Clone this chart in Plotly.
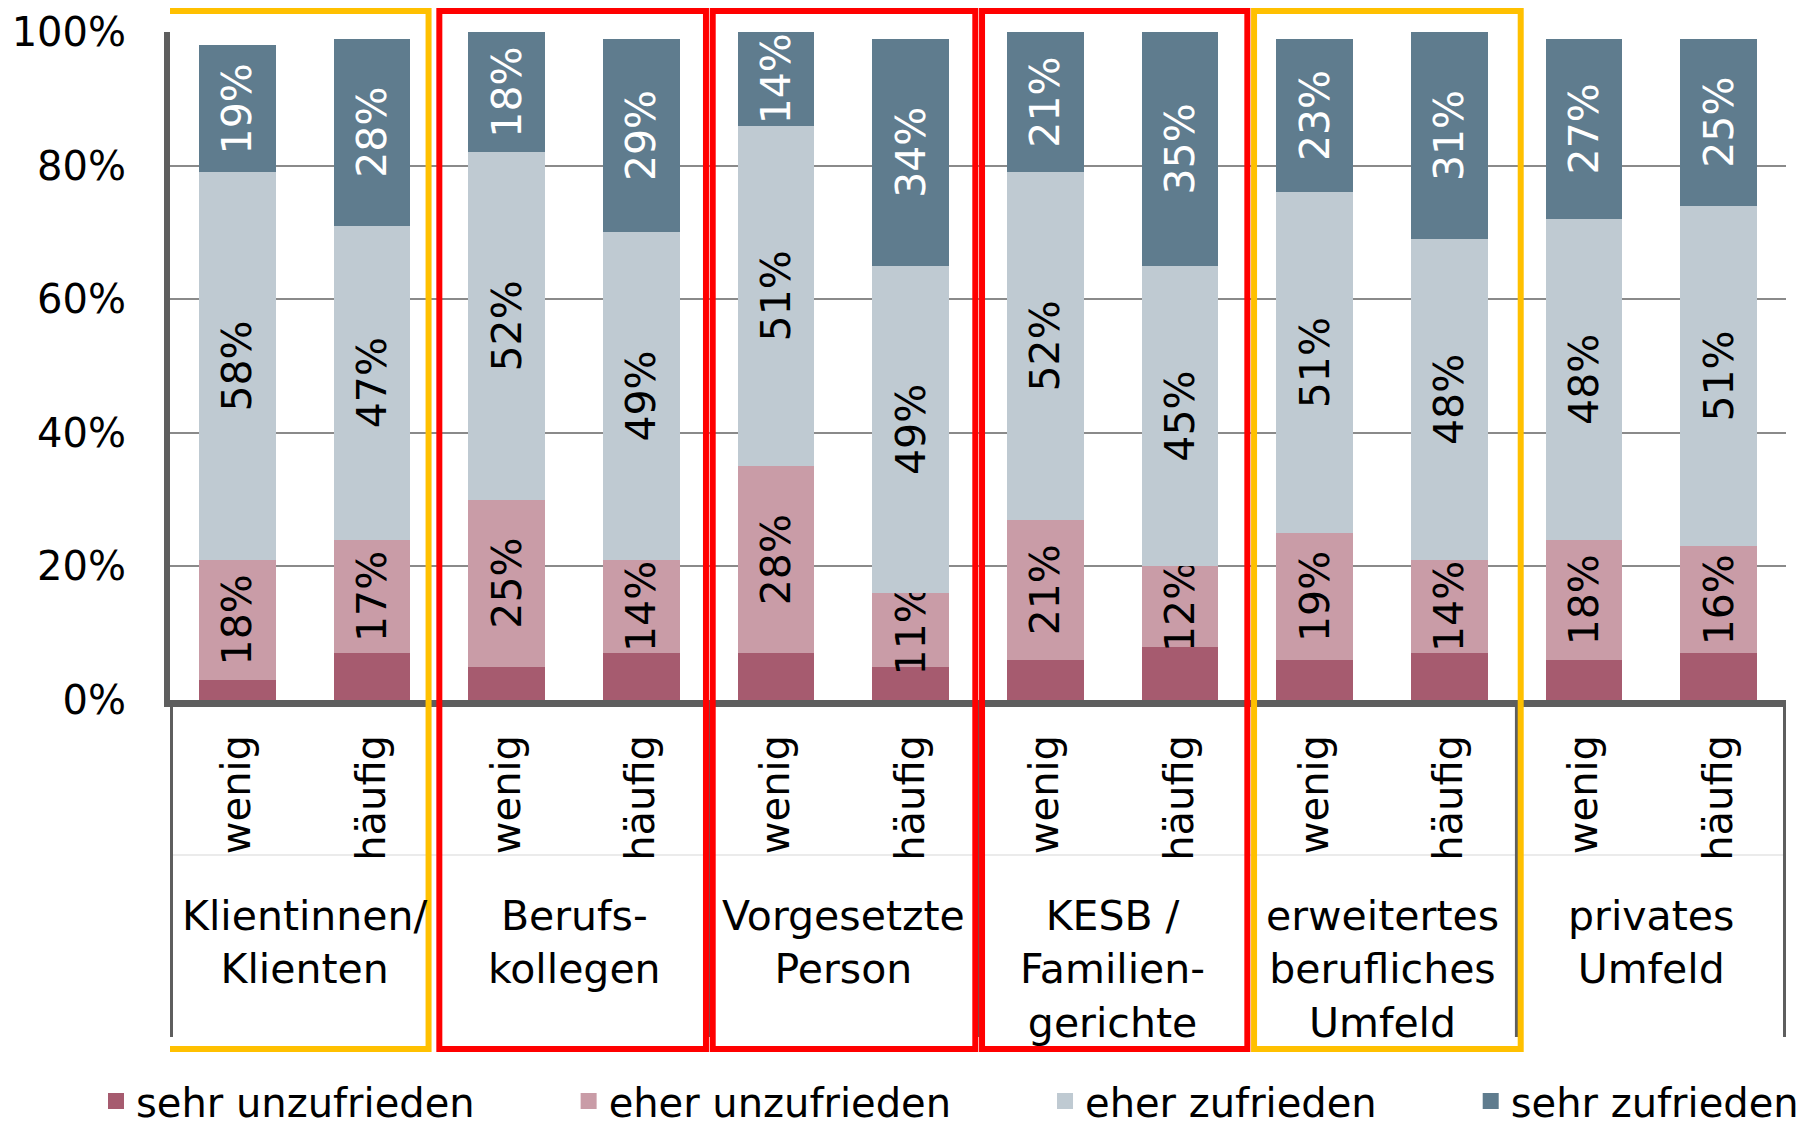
import plotly.graph_objects as go

# ---------------- data ----------------
groups = ["Klientinnen/<br>Klienten", "Berufs-<br>kollegen", "Vorgesetzte<br>Person",
          "KESB /<br>Familien-<br>gerichte", "erweitertes<br>berufliches<br>Umfeld",
          "privates<br>Umfeld"]
frequency = ["wenig", "häufig"]
series_names = ["sehr unzufrieden", "eher unzufrieden", "eher zufrieden", "sehr zufrieden"]

sehr_unzufrieden = [3, 7, 5, 7, 7, 5, 6, 8, 6, 7, 6, 7]
eher_unzufrieden = [18, 17, 25, 14, 28, 11, 21, 12, 19, 14, 18, 16]
eher_zufrieden = [58, 47, 52, 49, 51, 49, 52, 45, 51, 48, 48, 51]
sehr_zufrieden = [19, 28, 18, 29, 14, 34, 21, 35, 23, 31, 27, 25]

y_ticks = [0, 20, 40, 60, 80, 100]

# ---------------- styling ----------------
FONT = "DejaVu Sans"
FS = 40
FS_BAR = 41
FS_GROUP = 41
colors = ["#A65B6F", "#C99CA7", "#BFCAD2", "#5F7C8E"]
text_colors = ["#000000", "#000000", "#000000", "#FFFFFF"]
W, H = 1807, 1130
L, R, T, B = 170, 21, 32, 430
PW, PH = W - L - R, H - T - B
LEGEND_PAD = "\u00a0" * 7  # spacing between legend entries, as in the reference


def px_x(px):
    return (px - L) / PW


def px_y(py):
    return (H - B - py) / PH


categories = [f"{g.replace('<br>', ' ')} | {f}" for g in groups for f in frequency]
tick_text = [f for g in groups for f in frequency]

series_values = [sehr_unzufrieden, eher_unzufrieden, eher_zufrieden, sehr_zufrieden]

fig = go.Figure()
for i, (name, vals) in enumerate(zip(series_names, series_values)):
    txt = None if i == 0 else [f"{v}%" for v in vals]
    fig.add_trace(go.Bar(
        x=categories, y=vals, name=name, legendgroup=name, showlegend=False,
        marker=dict(color=colors[i], line=dict(width=0)),
        text=txt, textposition="inside" if txt else "none",
        insidetextanchor="middle", textangle=-90,
        insidetextfont=dict(family=FONT, size=FS_BAR, color=text_colors[i]),
        hoverinfo="skip",
    ))
# legend entries (larger square symbols like the reference)
for i, name in enumerate(series_names):
    label = name + (LEGEND_PAD if i < len(series_names) - 1 else "")
    fig.add_trace(go.Scatter(
        x=[None], y=[None], name=label, legendgroup=name, mode="markers",
        marker=dict(symbol="square", size=16, color=colors[i]),
        showlegend=True, hoverinfo="skip",
    ))

shapes = []
# separators of the category area
for k in range(len(groups) + 1):
    xpos = -0.5 + 2 * k
    outer = k in (0, len(groups))
    shapes.append(dict(type="line", xref="x", yref="paper", x0=xpos, x1=xpos,
                       y0=0, y1=px_y(1037), line=dict(color="#5E5E5E", width=6 if outer else 3.5)))
# faint line between sub labels and group labels
shapes.append(dict(type="line", xref="paper", yref="paper", x0=0, x1=1, y0=px_y(855), y1=px_y(855),
                   line=dict(color="#E4E4E4", width=1.5), layer="below"))
# highlight boxes
boxes = [(-0.56, 1.42, "#FFC000"), (1.50, 3.48, "#FF0000"), (3.53, 5.48, "#FF0000"),
         (5.53, 7.50, "#FF0000"), (7.55, 9.53, "#FFC000")]
for x0, x1, c in boxes:
    shapes.append(dict(type="rect", xref="x", yref="paper", x0=x0, x1=x1,
                       y0=px_y(1049), y1=px_y(11), line=dict(color=c, width=6)))

annotations = []
for gi, g in enumerate(groups):
    annotations.append(dict(
        x=2 * gi + 0.5, xref="x", y=px_y(890), yref="paper", yanchor="top", xanchor="center",
        text=g, showarrow=False, align="center",
        font=dict(family=FONT, size=FS_GROUP, color="#000000"),
    ))

fig.update_layout(
    width=W, height=H, margin=dict(l=L, r=R, t=T, b=B, autoexpand=False),
    paper_bgcolor="white", plot_bgcolor="white",
    barmode="stack", bargap=0.43,
    uniformtext=dict(minsize=FS_BAR, mode="show"),
    showlegend=True,
    legend=dict(
        x=px_x(96), y=px_y(1101), xanchor="left", yanchor="middle",
        orientation="h", font=dict(family=FONT, size=FS, color="#000000"),
        bgcolor="rgba(0,0,0,0)", borderwidth=0,
    ),
    shapes=shapes, annotations=annotations,
)
fig.update_xaxes(
    type="category", range=[-0.5, 11.5], tickvals=categories, ticktext=tick_text,
    tickangle=-90, ticks="", ticklabelstandoff=12,
    tickfont=dict(family=FONT, size=FS, color="#000000"),
    showline=True, linecolor="#5E5E5E", linewidth=7, showgrid=False, fixedrange=True,
)
fig.update_yaxes(
    range=[0, 100], tickvals=y_ticks, ticktext=[f"{t}%" for t in y_ticks],
    ticks="", ticklabelstandoff=30,
    tickfont=dict(family=FONT, size=FS, color="#000000"),
    showline=True, linecolor="#5E5E5E", linewidth=6,
    showgrid=True, gridcolor="#8A8A8A", gridwidth=2, zeroline=False, fixedrange=True,
)

fig.write_html("out.html", config={"displayModeBar": False},
               post_script="document.body.style.margin='0';document.body.style.overflow='hidden';")
